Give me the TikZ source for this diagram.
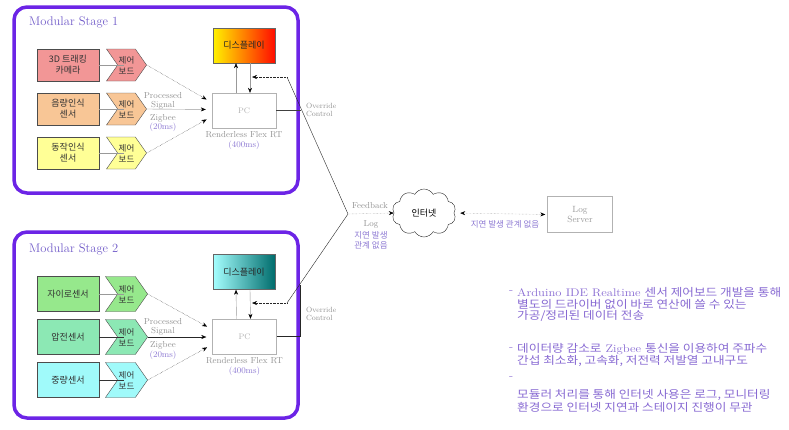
\documentclass[tikz,border=0pt]{standalone}
\usepackage{fontspec}
\newfontfamily\kr{Noto Sans CJK KR}
\usetikzlibrary{shapes.symbols,shapes.geometric,arrows.meta,calc}
\definecolor{framec}{RGB}{108,36,230}
\definecolor{titlec}{RGB}{112,90,200}
\definecolor{lavc}{RGB}{140,120,210}
\definecolor{bulc}{RGB}{135,105,210}
\definecolor{ca}{RGB}{242,150,150}
\definecolor{cb}{RGB}{248,198,150}
\definecolor{cc}{RGB}{255,255,150}
\definecolor{cd}{RGB}{150,232,140}
\definecolor{ce}{RGB}{140,232,180}
\definecolor{cf}{RGB}{160,250,250}
\tikzset{
  frame/.style={draw=framec, line width=3.5pt, rounded corners=13pt, minimum width=284pt, inner sep=0pt},
  sensor/.style={draw=black!70, thin, minimum width=62pt, align=center, inner sep=1pt, font=\kr\fontsize{9}{11}\selectfont, text=black!80},
  chev/.style={signal, signal to=east, signal from=west, signal pointer angle=110, draw=black!70, thin, minimum width=40pt, align=center, inner sep=1pt, font=\kr\fontsize{8.5}{11}\selectfont, text=black!80},
  pcbox/.style={draw=gray!60, fill=white, minimum width=64pt, minimum height=35pt, text=gray!60, font=\fontsize{8}{9}\selectfont},
  disp/.style={draw=black!60, minimum width=62pt, minimum height=35pt, font=\kr\fontsize{9}{10}\selectfont, text=black!85},
  glabel/.style={text=gray!85, font=\fontsize{8.7}{9}\selectfont, align=center, inner sep=0pt},
  olabel/.style={text=gray!85, font=\fontsize{7.5}{8}\selectfont, align=left, anchor=west, inner sep=0pt},
  llabel/.style={text=lavc, font=\fontsize{8.7}{9}\selectfont, align=center, inner sep=0pt},
  klabel/.style={text=lavc, font=\kr\fontsize{8.5}{9}\selectfont, align=center, inner sep=0pt},
  title/.style={text=titlec, font=\fontsize{12.5}{14}\selectfont, anchor=west, inner sep=0pt},
  link/.style={draw=gray!80, thin},
  dotl/.style={draw=black!85, densely dotted, thin},
  arr/.style={-{Stealth[length=5pt,width=4pt,black]}},
  bul/.style={text=bulc, anchor=west, inner sep=0pt, font=\fontsize{11}{12}\selectfont, xscale=1.15, transform shape},
}
\begin{document}
\begin{tikzpicture}[x=1pt,y=-1pt]
\useasboundingbox (0,0) rectangle (789,429);
% frames
\node[frame, minimum height=186pt] (st1) at (156,100) {};
\node[frame, minimum height=186pt] (st2) at (156,325) {};
\node[title] (t1) at (29,22) {Modular Stage 1};
\node[title] (t2) at (29,249) {Modular Stage 2};

% ---------- Stage 1 ----------
\node[sensor, fill=ca, minimum height=32pt] (s1a) at (68,65) {3D 트래킹\\카메라};
\node[sensor, fill=cb, minimum height=32pt] (s1b) at (68,109) {음량인식\\센서};
\node[sensor, fill=cc, minimum height=32pt] (s1c) at (68,153) {동작인식\\센서};
\node[chev, fill=ca, minimum height=32pt] (c1a) at (126.5,65) {제어\\보드};
\node[chev, fill=cb, minimum height=32pt] (c1b) at (126.5,109) {제어\\보드};
\node[chev, fill=cc, minimum height=32pt] (c1c) at (126.5,153) {제어\\보드};
\draw[link] (s1a.east) -- ($(c1a.west)+(7,0)$);
\draw[link] (s1b.east) -- ($(c1b.west)+(7,0)$);
\draw[link] (s1c.east) -- ($(c1c.west)+(7,0)$);
\node[disp, left color=yellow!90!orange, right color=red!90!orange] (d1) at (244,45.5) {디스플레이};
\node[pcbox] (p1) at (244,110.5) {PC};
\draw[dotl, arr, shorten >=6pt] (c1a.east) -- ($(p1.west)+(0,-8)$);
\draw[link, arr, shorten >=6pt] (c1b.east) -- ($(p1.west)+(0,-1)$);
\draw[dotl, arr, shorten >=6pt] (c1c.east) -- ($(p1.west)+(0,6)$);
\draw[link, arr] ([xshift=-8pt]p1.north) -- ([xshift=-8pt]d1.south);
\draw[link, arr] ([xshift=6pt]d1.south) -- ([xshift=6pt]p1.north);
\node[glabel] (ps1) at (163,101) {Processed\\Signal};
\node[glabel] (zb1) at (163,118) {Zigbee};
\node[llabel] (ms1) at (163,127.5) {(20ms)};
\node[glabel] (rf1) at (244,135) {Renderless Flex RT};
\node[llabel] (rt1) at (244,145.5) {(400ms)};
\coordinate (ov1) at (301,110.5);
\draw[black!75, thin] (p1.east) -- (ov1);
\node[olabel] (ol1) at (306,110) {Override\\Control};

% ---------- Stage 2 ----------
\node[sensor, fill=cd, minimum height=35pt] (s2a) at (68,294) {자이로센서};
\node[sensor, fill=ce, minimum height=35pt] (s2b) at (68,337) {압전센서};
\node[sensor, fill=cf, minimum height=35pt] (s2c) at (68,380) {중량센서};
\node[chev, fill=cd, minimum height=35pt] (c2a) at (126.5,294) {제어\\보드};
\node[chev, fill=ce, minimum height=35pt] (c2b) at (126.5,337) {제어\\보드};
\node[chev, fill=cf, minimum height=35pt] (c2c) at (126.5,380) {제어\\보드};
\draw[link] (s2a.east) -- ($(c2a.west)+(7,0)$);
\draw[black!80, thin] (s2b.east) -- ($(c2b.west)+(7,0)$);
\draw[black!80, thin] (s2c.east) -- ($(c2c.west)+(7,0)$);
\node[disp, left color=cyan!35, right color=teal!85!black] (d2) at (244,272) {디스플레이};
\node[pcbox] (p2) at (244.5,336.5) {PC};
\draw[dotl, arr, shorten >=6pt] (c2a.east) -- ($(p2.west)+(0,-7)$);
\draw[black!85, thin, arr, shorten >=6pt] (c2b.east) -- ($(p2.west)+(0,0.5)$);
\draw[dotl, arr, shorten >=6pt] (c2c.east) -- ($(p2.west)+(0,8)$);
\draw[link, arr] ([xshift=-8pt]p2.north) -- ([xshift=-8pt]d2.south);
\draw[link, arr] ([xshift=6pt]d2.south) -- ([xshift=6pt]p2.north);
\node[glabel] (ps2) at (163,327) {Processed\\Signal};
\node[glabel] (zb2) at (163,345) {Zigbee};
\node[llabel] (ms2) at (163,355) {(20ms)};
\node[glabel] (rf2) at (244.5,361) {Renderless Flex RT};
\node[llabel] (rt2) at (244.5,371.5) {(400ms)};
\coordinate (ov2a) at (300.5,336.5);
\coordinate (ov2b) at (300.5,285);
\draw[black!85, thin] (p2.east) -- (ov2a) -- (ov2b);
\node[olabel] (ol2) at (306,314) {Override\\Control};

% ---------- Feedback / Internet ----------
\coordinate (fbv) at (348,214);
\coordinate (fb1) at (287,77);
\coordinate (fb1t) at (252,77);
\coordinate (fb2) at (287,303);
\coordinate (fb2t) at (252,303);
\draw[black!85, thin] (fb1) -- (fbv) -- (fb2);
\draw[dotl, arr] (fb1) -- (fb1t);
\draw[dotl, arr] (fb2) -- (fb2t);
\node[cloud, cloud puffs=10, cloud puff arc=120, aspect=1.35, draw=black!85, thin, minimum width=64pt, minimum height=48pt, inner sep=0pt, font=\kr\fontsize{9}{10}\selectfont] (net) at (424,213) {인터넷};
\draw[gray!80, densely dotted, arr] (fbv) -- (net.west);
\node[glabel] (fbl) at (370,206) {Feedback};
\node[glabel] (lgl) at (371,224.5) {Log};
\node[klabel] (dl1) at (371,235) {지연 발생};
\node[klabel] (dl2) at (371,245.5) {관계 없음};
\node[draw=gray!60, minimum width=65pt, minimum height=36pt, text=gray!80, font=\fontsize{9}{10}\selectfont, align=center] (ls) at (580,214.5) {Log\\Server};
\draw[gray!80, densely dotted, {Stealth[length=5pt,width=4pt,black]}-{Stealth[length=5pt,width=4pt,black]}, shorten <=6pt, shorten >=2pt] (net.east) -- (ls.west);
\node[klabel] (dl3) at (505,224) {지연 발생 관계 없음};

% ---------- Bullets ----------
\node[bul] (b1d) at (509,292) {-};
\node[bul] (b1a) at (517,292) {Arduino IDE Realtime {\kr 센서 제어보드 개발을 통해}};
\node[bul] (b1b) at (517,304) {\kr 별도의 드라이버 없이 바로 연산에 쓸 수 있는};
\node[bul] (b1c) at (517,316) {\kr 가공/정리된 데이터 전송};
\node[bul] (b2d) at (509,349) {-};
\node[bul] (b2a) at (517,349) {{\kr 데이터량 감소로} Zigbee {\kr 통신을 이용하여 주파수}};
\node[bul] (b2b) at (517,361) {\kr 간섭 최소화, 고속화, 저전력 저발열 고내구도};
\node[bul] (b3d) at (509,378) {-};
\node[bul] (b3a) at (517,395) {\kr 모듈러 처리를 통해 인터넷 사용은 로그, 모니터링};
\node[bul] (b3b) at (517,407) {\kr 환경으로 인터넷 지연과 스테이지 진행이 무관};
\end{tikzpicture}
\end{document}
